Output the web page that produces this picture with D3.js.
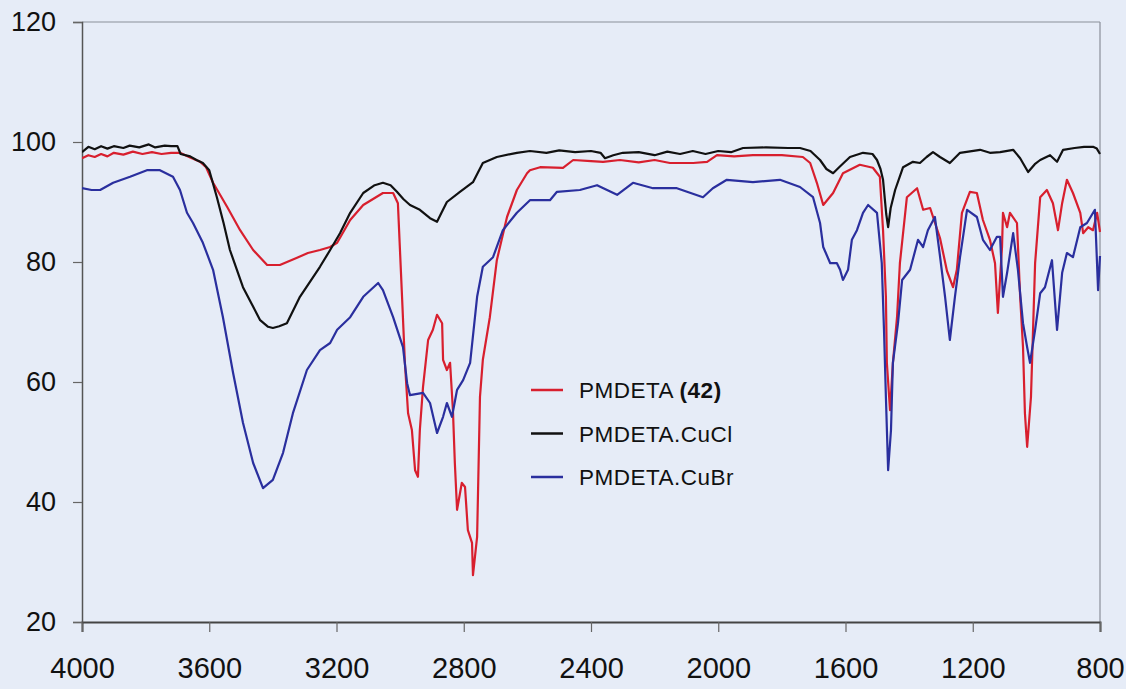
<!DOCTYPE html>
<html>
<head>
<meta charset="utf-8">
<script src="https://cdn.jsdelivr.net/npm/d3@7"></script>
<style>
  html, body { margin: 0; padding: 0; background: #e6ecf7; }
  svg { display: block; }
</style>
</head>
<body>
<svg id="chart" width="1126" height="689"></svg>
<script>
// ---- Data (wavenumber cm-1, transmittance %) ----
const xTicks = [4000, 3600, 3200, 2800, 2400, 2000, 1600, 1200, 800];
const yTicks = [20, 40, 60, 80, 100, 120];

const seriesNames = ["PMDETA", "PMDETA.CuCl", "PMDETA.CuBr"];

const pmdetaWn = [4000,3980,3960,3940,3920,3900,3870,3840,3810,3780,3750,3720,3692,3660,3629,3610,3588,3544,3503,3462,3418,3378,3324,3290,3252,3220,3198,3157,3116,3054,3022,3007,2994,2985,2975,2963,2953,2944,2938,2928,2912,2897,2884,2868,2865,2853,2843,2834,2828,2821,2806,2796,2787,2774,2771,2758,2749,2740,2718,2696,2664,2633,2601,2592,2560,2488,2456,2400,2362,2309,2250,2200,2152,2079,2035,2004,1950,1891,1800,1734,1711,1690,1670,1639,1608,1555,1514,1492,1482,1473,1470,1460,1451,1438,1429,1407,1375,1356,1334,1303,1281,1262,1250,1234,1209,1187,1168,1146,1130,1121,1108,1105,1092,1083,1061,1051,1042,1036,1029,1017,1004,988,967,948,932,919,904,885,862,853,837,822,809,800];
const pmdetaT  = [97.3,97.8,97.5,98.0,97.6,98.2,97.9,98.4,98.0,98.3,98.0,98.2,98.2,97.4,96.7,95.8,93.2,89.2,85.3,82,79.5,79.5,80.7,81.5,82,82.5,83.2,87,89.5,91.5,91.5,89.8,74.2,63.2,54.8,52,45.3,44.2,52,59.2,67,68.7,71.2,69.8,63.7,62,63.2,55.3,46.5,38.7,43.2,42.5,35.3,33.2,27.8,34.2,57.5,63.7,70.8,80.3,87.5,92,94.8,95.3,95.8,95.7,97,96.8,96.7,97,96.6,97.0,96.5,96.5,96.7,97.8,97.6,97.8,97.8,97.5,96.5,93.2,89.5,91.5,94.8,96.2,95.7,94.2,85.3,74.2,63.2,55.3,63.2,70.8,79.8,90.8,92.3,88.7,89,84,78.5,75.8,78.7,88.2,91.7,91.5,87,83.7,79.8,71.5,82.5,88.2,85.8,88.2,86.5,74.2,65.8,54.8,49.2,57.5,79.8,90.8,92,89.8,85.3,89.8,93.7,91.5,88.2,84.8,85.8,85.3,88.2,85];

const cuclWn = [4000,3980,3960,3940,3920,3900,3870,3850,3820,3790,3770,3740,3720,3700,3690,3660,3640,3620,3600,3576,3555,3535,3494,3440,3415,3400,3380,3356,3315,3252,3220,3189,3157,3116,3080,3054,3030,3010,2990,2969,2938,2906,2884,2870,2853,2812,2771,2740,2696,2633,2592,2540,2500,2450,2400,2370,2356,2330,2300,2250,2200,2160,2120,2080,2040,2000,1960,1922,1850,1780,1743,1710,1680,1660,1639,1620,1586,1545,1515,1501,1490,1482,1472,1466,1458,1444,1419,1388,1366,1345,1325,1303,1281,1272,1240,1177,1146,1114,1073,1051,1026,1005,988,957,935,916,880,850,822,810,800];
const cuclT  = [98.3,99.2,98.8,99.3,98.9,99.3,99.0,99.4,99.1,99.6,99.1,99.4,99.3,99.3,98.0,97.6,97.0,96.5,95.3,90.8,86.5,82,75.8,70.3,69.2,69,69.3,69.8,74.2,79.2,82,84.8,88.2,91.5,92.8,93.2,92.8,91.7,90.5,89.5,88.7,87.3,86.7,88.2,90,91.7,93.3,96.5,97.5,98.2,98.5,98.2,98.6,98.3,98.5,98.2,97.3,97.8,98.2,98.3,97.8,98.4,98.0,98.5,98.0,98.5,98.3,99.0,99.1,99.0,99.0,98.5,97,95.5,94.8,95.8,97.5,98.2,98.0,97,95.5,93.7,88,85.8,89,92,95.8,96.7,96.5,97.5,98.3,97.5,96.8,96.5,98.2,98.7,98.2,98.3,98.7,97.3,95,96.3,97,97.8,96.7,98.7,99.0,99.2,99.2,98.9,98];

const cubrWn = [4000,3970,3943,3902,3849,3796,3755,3714,3692,3670,3651,3620,3588,3557,3525,3494,3462,3431,3400,3368,3337,3293,3252,3220,3198,3157,3116,3069,3054,3022,2991,2978,2969,2928,2906,2884,2865,2853,2837,2821,2802,2780,2758,2740,2708,2677,2633,2592,2529,2507,2435,2381,2318,2268,2205,2130,2048,2017,1973,1891,1806,1743,1702,1680,1670,1648,1627,1617,1608,1592,1580,1564,1545,1529,1501,1486,1479,1473,1466,1457,1451,1435,1422,1397,1372,1356,1341,1319,1303,1287,1272,1256,1240,1218,1187,1168,1146,1124,1114,1105,1092,1073,1058,1042,1029,1020,1004,988,973,951,935,919,904,885,862,841,816,806,800];
const cubrT  = [92.3,92.0,92,93.2,94.2,95.3,95.3,94.2,92,88.2,86.5,83.2,78.7,70.8,61.5,53.2,46.5,42.3,43.7,48.2,54.8,62,65.3,66.5,68.7,70.8,74.2,76.5,75.3,70.8,65.8,59.8,57.8,58.2,56.5,51.5,54.2,56.5,54.2,58.7,60.3,63.2,74.2,79.2,80.8,85.3,88.2,90.3,90.3,91.7,92,92.8,91.2,93.2,92.3,92.3,90.8,92.3,93.7,93.3,93.7,92.5,90.8,86.5,82.5,79.8,79.8,78.7,77,78.7,83.7,85.3,88.2,89.5,88.2,79.8,68.7,57.5,45.3,52,63.2,69.8,77,78.7,83.7,82.5,85.3,87.5,81,74.2,67,74.2,80.8,88.7,87.5,83.7,82,84.2,84.2,74.2,78.2,84.8,78.7,69.8,65.8,63.2,68.7,74.8,75.8,80.3,68.7,78.2,81.5,80.8,85.8,86.5,88.7,75.3,81];

const colors = ["#d81f2e", "#111111", "#2a2f9e"];

// ---- Layout ----
const svg = d3.select("#chart");
const mLeft = 82, mRight = 1100, mTop = 22, mBottom = 622;

const x = d3.scaleLinear().domain([4000, 800]).range([mLeft, mRight]);
const y = d3.scaleLinear().domain([20, 120]).range([mBottom, mTop]);

svg.append("rect").attr("x", 0).attr("y", 0).attr("width", 1126).attr("height", 689).attr("fill", "#e6ecf7");

// frame (top & right)
svg.append("line").attr("x1", mLeft).attr("x2", mRight).attr("y1", mTop).attr("y2", mTop)
  .attr("stroke", "#8a8f99").attr("stroke-width", 1.2);
svg.append("line").attr("x1", mRight).attr("x2", mRight).attr("y1", mTop).attr("y2", mBottom)
  .attr("stroke", "#8a8f99").attr("stroke-width", 1.2);

// axes
const xAxis = d3.axisBottom(x).tickValues(xTicks).tickSize(10).tickPadding(25).tickFormat(d3.format("d"));
const gx = svg.append("g").attr("transform", `translate(0,${mBottom})`).call(xAxis);
gx.select(".domain").attr("stroke", "#444").attr("stroke-width", 2);
gx.selectAll(".tick line").attr("stroke", "#666").attr("stroke-width", 1.2);
gx.selectAll(".tick text").attr("font-family", "'Liberation Sans', Arial, sans-serif")
  .attr("font-size", 29).attr("fill", "#111");

const yAxis = d3.axisLeft(y).tickValues(yTicks).tickSize(9).tickPadding(17).tickFormat(d3.format("d"));
const gy = svg.append("g").attr("transform", `translate(${mLeft},0)`).call(yAxis);
gy.select(".domain").attr("stroke", "#555").attr("stroke-width", 1.5);
gy.selectAll(".tick line").attr("stroke", "#666").attr("stroke-width", 1.2);
gy.selectAll(".tick text").attr("font-family", "'Liberation Sans', Arial, sans-serif")
  .attr("font-size", 27).attr("fill", "#111");

// series
const series = [
  { name: seriesNames[0], wn: pmdetaWn, t: pmdetaT, color: colors[0] },
  { name: seriesNames[1], wn: cuclWn, t: cuclT, color: colors[1] },
  { name: seriesNames[2], wn: cubrWn, t: cubrT, color: colors[2] }
];

const line = d3.line().x(d => x(d[0])).y(d => y(d[1])).curve(d3.curveLinear);

svg.append("defs").append("clipPath").attr("id", "clip")
  .append("rect").attr("x", mLeft).attr("y", mTop).attr("width", mRight - mLeft + 2).attr("height", mBottom - mTop);

series.forEach(s => {
  const pts = s.wn.map((w, i) => [w, s.t[i]]);
  svg.append("path").datum(pts)
    .attr("d", line)
    .attr("fill", "none")
    .attr("stroke", s.color)
    .attr("stroke-width", 2.2)
    .attr("stroke-linejoin", "round")
    .attr("clip-path", "url(#clip)");
});

// legend
const legend = svg.append("g").attr("font-family", "'Liberation Sans', Arial, sans-serif")
  .attr("font-size", 22.5).attr("letter-spacing", 0.5).attr("fill", "#111");
const legendRows = [
  { parts: [["PMDETA ", "normal"], ["(42)", "bold"]], color: colors[0] },
  { parts: [["PMDETA.CuCl", "normal"]], color: colors[1] },
  { parts: [["PMDETA.CuBr", "normal"]], color: colors[2] }
];
legendRows.forEach((r, i) => {
  const cy = 390 + i * 43.5;
  legend.append("line").attr("x1", 531).attr("x2", 563).attr("y1", cy).attr("y2", cy)
    .attr("stroke", r.color).attr("stroke-width", 2.5);
  const t = legend.append("text").attr("x", 579).attr("y", cy + 8);
  r.parts.forEach(p => t.append("tspan").attr("font-weight", p[1]).text(p[0]));
});
</script>
</body>
</html>
